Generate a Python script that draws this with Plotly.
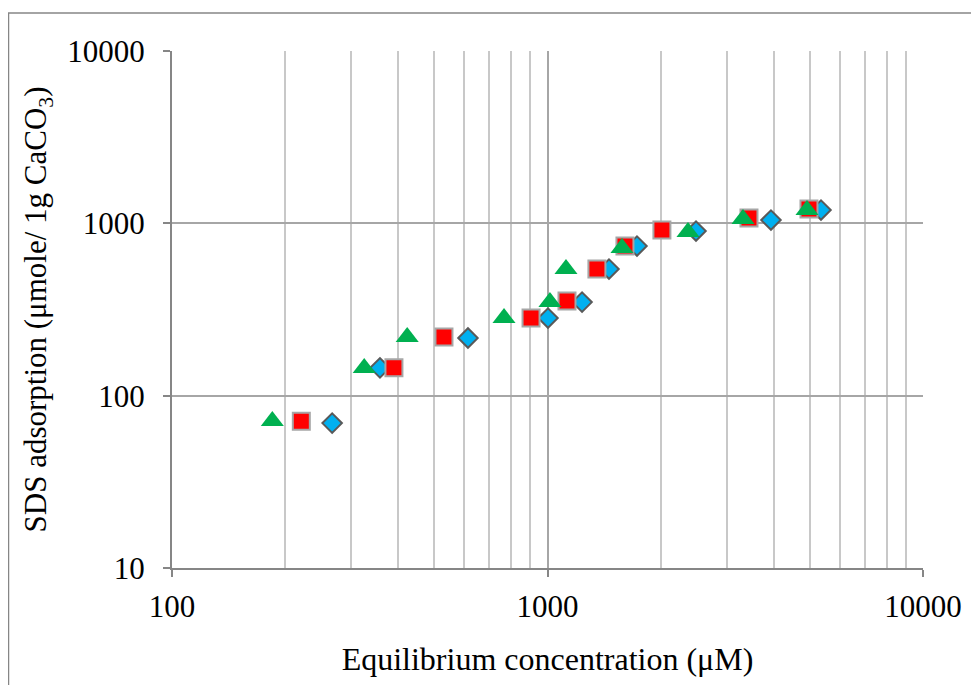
import plotly.graph_objects as go

# Series 1: blue diamonds
blue_x = [267, 358, 614, 1003, 1236, 1458, 1731, 2486, 3937, 5350]
blue_y = [69.3, 145, 216, 282, 349, 543, 738, 902, 1045, 1194]
# Series 2: red squares
red_x = [221, 390, 530, 904, 1127, 1354, 1608, 2017, 3440, 4970]
red_y = [71, 145, 219, 282, 354, 543, 738, 914, 1074, 1211]
# Series 3: green triangles
green_x = [185, 325, 423, 766, 1015, 1120, 1579, 2367, 3316, 4910]
green_y = [71.2, 144.6, 218.8, 282, 349, 543, 719, 890, 1059, 1194]

x_ticks = [100, 1000, 10000]
y_ticks = [10, 100, 1000, 10000]
x_minor = [200, 300, 400, 500, 600, 700, 800, 900,
           2000, 3000, 4000, 5000, 6000, 7000, 8000, 9000]

FONT = "Liberation Serif"
FS = 31

fig = go.Figure()
fig.add_trace(go.Scatter(
    x=blue_x, y=blue_y, mode="markers",
    marker=dict(symbol="diamond", size=15, color="#00B0F0",
                line=dict(color="#595959", width=2)),
    showlegend=False))
fig.add_trace(go.Scatter(
    x=red_x, y=red_y, mode="markers",
    marker=dict(symbol="square", size=17, color="#FF0000",
                line=dict(color="#A6A6A6", width=2)),
    showlegend=False))
fig.add_trace(go.Scatter(
    x=green_x, y=green_y, mode="markers",
    marker=dict(symbol="triangle-up", size=20, color="#00B050",
                line=dict(width=0)),
    showlegend=False))

# page body has an 8px margin, so the figure is offset by (8, 8)
L, R, T, B = 164, 56, 43, 117
W, H = 971, 677
pw, ph = W - L - R, H - T - B

fig.update_layout(
    width=W, height=H,
    margin=dict(l=L, r=R, t=T, b=B, autoexpand=False),
    paper_bgcolor="white", plot_bgcolor="white",
    font=dict(family=FONT, size=FS, color="black"),
    xaxis=dict(
        type="log", range=[2, 4], automargin=False,
        tickmode="array", tickvals=x_ticks, ticktext=[str(v) for v in x_ticks],
        ticks="outside", ticklen=7, tickcolor="#868686", tickwidth=1.5,
        showgrid=True, gridcolor="#A6A6A6", gridwidth=1.5,
        minor=dict(tickmode="array", tickvals=x_minor, showgrid=True,
                   gridcolor="#C8C8C8", gridwidth=1.5, ticks=""),
        showline=True, linecolor="#868686", linewidth=2,
        zeroline=False,
        ticklabelstandoff=3,
        title=dict(text="Equilibrium concentration (μM)", standoff=24,
                   font=dict(family=FONT, size=32)),
        tickfont=dict(family=FONT, size=FS),
    ),
    yaxis=dict(
        type="log", range=[1, 4], automargin=False,
        tickmode="array", tickvals=y_ticks, ticktext=[str(v) for v in y_ticks],
        ticks="outside", ticklen=7, tickcolor="#868686", tickwidth=1.5,
        showgrid=True, gridcolor="#A6A6A6", gridwidth=1.5,
        showline=True, linecolor="#868686", linewidth=2,
        zeroline=False,
        ticklabelstandoff=12,
        title=dict(text="SDS adsorption (μmole/ 1g CaCO<sub>3</sub>)", standoff=11,
                   font=dict(family=FONT, size=FS)),
        tickfont=dict(family=FONT, size=FS),
    ),
)

# outer chart-area border (extends beyond right/bottom edges)
fig.add_shape(type="rect", xref="paper", yref="paper",
              x0=(0.5 - L) / pw, x1=(W + 20 - L) / pw,
              y0=-(H + 20 - T - ph) / ph, y1=1 + (T - 5) / ph,
              line=dict(color="#868686", width=1.5), fillcolor="rgba(0,0,0,0)",
              layer="below")

fig.write_html("out.html")
